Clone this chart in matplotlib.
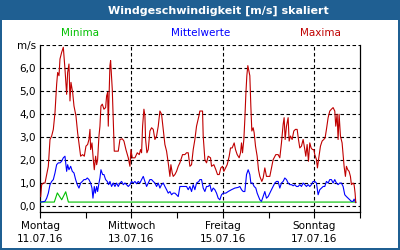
import matplotlib
matplotlib.use("Agg")
import matplotlib.pyplot as plt
from matplotlib.patches import Rectangle
import numpy as np

title = "Windgeschwindigkeit [m/s] skaliert"
series_names = ["Minima", "Mittelwerte", "Maxima"]
tick_days = ["Montag\n11.07.16", "Mittwoch\n13.07.16", "Freitag\n15.07.16", "Sonntag\n17.07.16"]
y_labels = ["0,0", "1,0", "2,0", "3,0", "4,0", "5,0", "6,0"]
unit = "m/s"

# Maxima (hours since start, m/s)
max_t = [0.35, 0.87, 1.75, 2.62, 3.50, 4.37, 5.25, 6.12, 6.99, 7.87, 8.74, 9.27, 9.97, 10.49,
         11.37, 12.24, 13.11, 13.99, 14.51, 15.21, 15.74, 16.26, 17.14, 17.84, 18.89, 19.76,
         20.63, 21.33, 22.38, 23.26, 24.13, 25.0, 25.7, 26.23, 26.58, 27.28, 27.98, 28.5,
         29.2, 29.73, 30.25, 30.95, 31.47, 32.0, 32.7, 33.57, 34.45, 34.97, 35.5, 35.85,
         36.2, 36.72, 37.07, 37.94, 38.99, 40.22, 41.09, 41.97, 43.19, 44.07, 45.11, 46.34,
         47.21, 47.74, 48.44, 49.84, 51.06, 52.11, 52.81, 53.33, 53.86, 54.56, 55.08, 55.43,
         56.13, 56.83, 57.70, 58.58, 59.45, 60.33, 61.2, 62.08, 62.95, 63.82, 64.7, 65.57,
         66.45, 67.32, 68.2, 68.72, 69.42, 69.94, 70.82, 71.69, 72.57, 73.44, 74.84, 76.06,
         76.94, 77.81, 78.69, 79.56, 80.44, 81.31, 82.18, 83.41,
         83.93, 85.33, 85.68, 86.56, 87.43, 88.3, 89.53, 90.05, 91.28, 92.33, 93.2, 94.08,
         94.95, 95.82, 96.52, 97.4, 98.27, 99.32, 100.02, 100.89, 101.94, 102.64, 103.52,
         104.57, 105.27, 105.79, 106.32, 107.02, 107.54, 108.07, 108.59, 109.11, 109.64,
         110.16, 110.69, 111.21, 111.91, 112.44, 113.14, 114.01, 114.71, 115.41, 116.46,
         117.16, 118.03, 118.9, 119.78, 120.65, 121.53, 122.4, 123.8, 125.02, 125.9, 126.77,
         127.65, 128.17, 128.7, 129.4, 130.27, 130.8, 131.5, 132.37, 133.25, 134.12, 135.0,
         135.7, 136.39, 137.27, 138.14, 139.02, 139.54, 140.24, 140.94, 141.64, 142.34,
         143.04, 143.74, 144.26, 145.14, 145.66, 146.36, 147.24, 148.11, 148.98, 149.68,
         150.38, 151.26, 152.13, 153.0, 153.88, 154.75, 155.28, 155.98, 156.5, 157.03,
         157.73, 158.6, 159.13, 159.65, 160.35, 160.87, 161.57, 162.27, 162.97, 163.5,
         164.37, 164.9, 165.42, 165.77]
max_v = [0.39, 0.91, 0.98, 0.98, 1.35, 1.71, 2.88, 3.03, 3.32, 4.05, 5.29, 5.80, 5.66, 6.39,
         6.68, 6.90, 5.95, 4.85, 5.80, 6.17, 4.56, 5.37, 4.93, 4.34, 3.90, 3.17,
         2.59, 2.15, 2.22, 2.15, 2.59, 2.66, 2.88, 3.32, 2.44, 2.73, 2.0, 1.56,
         2.15, 1.78, 2.0, 3.03, 3.46, 4.34, 4.42, 4.20, 4.27, 4.78, 4.93, 3.46,
         4.63, 6.10, 6.32, 5.07, 2.37, 2.37, 2.37, 2.88, 2.91, 2.81, 2.44, 2.08,
         1.71, 2.44, 2.08, 2.08, 2.30, 2.22, 2.44, 2.30, 3.46, 4.20, 3.90, 2.88,
         2.30, 2.44, 3.25, 3.39, 3.32, 2.88, 3.03, 3.46, 4.12, 3.98, 3.32, 2.66,
         2.37, 1.86, 1.27, 1.78, 1.42, 1.27, 1.35, 1.49, 1.71, 1.86, 2.22, 2.22,
         2.30, 2.30, 1.71, 1.78, 2.44, 2.88, 3.46, 3.90,
         4.12, 4.12, 3.03, 2.0, 1.86, 2.15, 2.08, 1.71, 1.78, 1.56, 1.35, 1.35,
         1.64, 1.71, 1.49, 1.64, 1.78, 2.15, 2.51, 2.51, 2.73, 2.44, 2.22,
         2.08, 2.30, 2.73, 2.30, 2.88, 3.76, 4.85, 5.66, 6.10, 5.88,
         5.66, 4.34, 3.25, 3.39, 3.17, 2.59, 2.15, 1.56, 1.27, 1.05,
         1.20, 1.64, 1.27, 1.27, 1.27, 1.64, 2.0, 2.22, 2.22, 2.08, 2.73,
         3.54, 3.83, 2.88, 3.46, 3.83, 2.81, 3.03, 2.88, 3.25, 3.32, 3.32,
         2.88, 2.51, 2.59, 2.88, 2.44, 2.15, 2.66, 1.93, 2.73, 2.51,
         2.44, 2.44, 2.22, 2.0, 1.64, 2.08, 2.59, 2.81, 2.88, 2.95,
         3.32, 3.83, 4.12, 4.20, 4.27, 4.12, 3.46, 3.98, 2.88, 3.98,
         3.03, 2.73, 2.22, 1.71, 1.27, 1.71, 1.56, 1.49, 1.27, 0.91,
         0.98, 0.91, 0.54, 0.13]

# Mittelwerte (hours since start, m/s)
mean_t = [0.35, 2.62, 3.5, 4.37, 5.25, 6.12, 6.99, 7.87, 8.74, 9.62, 10.49, 11.37, 12.24,
          13.11, 13.99, 14.51, 15.21, 16.09, 16.96, 17.84, 18.71, 19.58, 20.46, 21.33,
          22.21, 23.08, 23.96, 24.83, 25.7, 26.58, 27.28, 27.8, 28.5, 29.03, 29.73, 30.25,
          30.95, 31.47, 32.0, 32.87, 33.57, 34.45, 35.32, 36.02, 36.72, 37.59, 38.47,
          39.34, 40.22, 41.09, 41.97, 42.84, 43.72, 44.59, 45.46, 46.34, 47.21, 48.09,
          48.96, 49.84, 50.71, 51.58, 52.46, 53.33, 54.21, 55.08, 55.96, 56.83, 57.7,
          58.58, 59.45, 60.33, 61.2, 62.08, 62.95, 63.82, 64.7, 65.57, 66.45, 67.32,
          68.2, 69.07, 69.94, 70.82, 71.69, 72.57, 73.44, 74.84, 76.06, 76.94, 77.81,
          78.69, 79.56, 80.44, 81.31, 82.18, 83.41,
          83.93, 84.81, 85.68, 86.56, 87.43, 88.3, 89.18, 90.05, 90.93, 91.8, 92.68,
          93.55, 94.43, 95.3, 96.17, 97.57, 98.8, 100.54, 102.29, 104.04, 104.92,
          105.79, 106.67, 107.54, 108.42, 109.29, 110.16, 110.69, 111.56, 112.44,
          113.31, 114.01, 114.71, 115.41, 116.28, 117.16, 118.03, 118.9, 119.78,
          120.65, 121.53, 122.4, 123.28, 124.15, 125.02, 125.9, 126.77, 127.65,
          128.52, 129.4, 130.27, 131.15, 132.02, 132.89, 133.77, 134.64, 135.52,
          136.39, 137.27, 138.14, 139.02, 139.89, 140.77, 141.64, 142.51, 143.39,
          144.26, 145.14, 146.01, 146.89, 147.76, 148.64, 149.51, 150.38, 151.26,
          152.13, 153.0, 153.88, 154.75, 155.63, 156.5, 157.38, 158.25, 159.13,
          160.0, 160.87, 161.75, 162.62, 163.5, 164.37, 164.9, 165.42, 165.77]
mean_v = [0.15, 0.18, 0.32, 0.54, 0.91, 1.05, 1.13, 1.42, 1.78, 1.86, 1.86, 1.93, 2.08,
          2.15, 1.49, 1.78, 1.56, 1.71, 1.49, 1.42, 1.13, 0.91, 0.76, 0.98,
          1.05, 1.13, 1.13, 1.20, 1.13, 0.98, 0.76, 0.32, 0.83, 0.54, 0.83, 0.61,
          0.98, 1.20, 1.56, 1.35, 1.35, 1.13, 1.05, 0.91, 1.05, 0.83, 0.98,
          0.83, 0.98, 0.83, 0.98, 1.05, 0.91, 0.98, 0.91, 0.83, 0.91, 1.05,
          0.98, 1.05, 0.95, 1.05, 0.98, 1.13, 1.27, 1.05, 0.83, 0.98, 1.13,
          1.13, 1.05, 0.98, 0.83, 0.98, 0.76, 0.91, 0.98, 0.83, 0.69, 0.54,
          0.61, 0.47, 0.54, 0.54, 0.47, 0.39, 0.83, 0.83, 0.83, 0.83, 0.69,
          0.83, 0.61, 0.91, 0.69, 0.98, 1.05,
          1.13, 1.13, 0.76, 0.61, 0.83, 0.83, 0.91, 0.61, 0.76, 0.69, 0.54,
          0.32, 0.25, 0.47, 0.54, 0.54, 0.61, 0.69, 0.76, 0.79, 0.83,
          0.69, 0.61, 0.61, 1.35, 1.56, 1.35, 0.98, 0.98, 0.83,
          0.76, 0.54, 0.39, 0.25, 0.18, 0.39, 0.61, 0.32, 0.39,
          0.54, 0.69, 0.83, 0.98, 1.05, 1.05, 0.76, 0.98, 1.05,
          1.20, 1.13, 0.98, 0.91, 0.91, 0.86, 0.91, 0.83, 0.83,
          0.91, 0.83, 0.98, 0.91, 0.83, 0.91, 0.83, 0.91, 1.05,
          1.05, 0.98, 0.47, 0.69, 0.76, 0.83, 0.83, 1.05, 0.98,
          1.13, 1.13, 0.98, 1.13, 0.98, 0.91, 0.98, 0.98, 0.83,
          0.47, 0.39, 0.32, 0.25, 0.18, 0.18, 0.28, 0.18, 0.13]

# Minima (hours since start, m/s)
min_t = [0.35, 7.5, 9.1, 11.4, 13.5, 14.9, 165.77]
min_v = [0.15, 0.15, 0.55, 0.25, 0.6, 0.15, 0.15]

c_min, c_mean, c_max = "#00c000", "#0000ff", "#c00000"
frame_blue = "#1f5f92"

W, H = 400, 250
fig = plt.figure(figsize=(4, 2.5), dpi=100)
fig.patch.set_facecolor("white")

# title bar and outer border
fig.add_artist(Rectangle((0, 1 - 20 / H), 1, 20 / H, transform=fig.transFigure,
                         facecolor=frame_blue, edgecolor="none"))
for (x0, y0, w, h) in [(0, 0, 2 / W, 1), (1 - 2 / W, 0, 2 / W, 1), (0, 0, 1, 2 / H)]:
    fig.add_artist(Rectangle((x0, y0), w, h, transform=fig.transFigure,
                             facecolor=frame_blue, edgecolor="none"))
fig.text(218 / W, 1 - 10.5 / H, title, color="white", fontsize=8, fontweight="bold",
         ha="center", va="center")

for name, col, xc in zip(series_names, [c_min, c_mean, c_max], [80, 201, 320]):
    fig.text(xc / W, 1 - 32.5 / H, name, color=col, fontsize=7.5, ha="center", va="center")
fig.text(36 / W, 1 - 46 / H, unit, color="black", fontsize=7.5, ha="right", va="center")

ax = fig.add_axes([40 / W, (H - 211.7) / H, 320 / W, (211.7 - 45) / H])
ax.set_facecolor("white")
ax.set_xlim(0, 168)
ax.set_ylim(-0.27, 7.0)

lw = 0.8
ax.plot(min_t, min_v, color=c_min, lw=lw, zorder=3)
ax.plot(mean_t, mean_v, color=c_mean, lw=lw, zorder=4)
ax.plot(max_t, max_v, color=c_max, lw=lw, zorder=5)

dash = (0, (3.2, 2.2))
for yv in range(0, 8):
    ax.axhline(yv, color="black", lw=0.8, linestyle=dash, zorder=1)
for xv in [48, 96, 144]:
    ax.axvline(xv, color="black", lw=0.8, linestyle=dash, zorder=1)

ax.set_yticks(range(0, 7))
ax.set_yticklabels(y_labels, fontsize=7.5)
ax.tick_params(axis="y", length=0, pad=3)
ax.set_xticks([0, 48, 96, 144])
ax.set_xticklabels(tick_days, fontsize=7.5, linespacing=1.45)
ax.set_xticks([24, 72, 120, 168], minor=True)
ax.tick_params(axis="x", which="both", direction="out", length=4, width=0.8, pad=2.5)

for s in ["left", "bottom", "right"]:
    ax.spines[s].set_linewidth(0.9)
    ax.spines[s].set_color("black")
ax.spines["top"].set_visible(False)

fig.savefig("out.png", dpi=100)
